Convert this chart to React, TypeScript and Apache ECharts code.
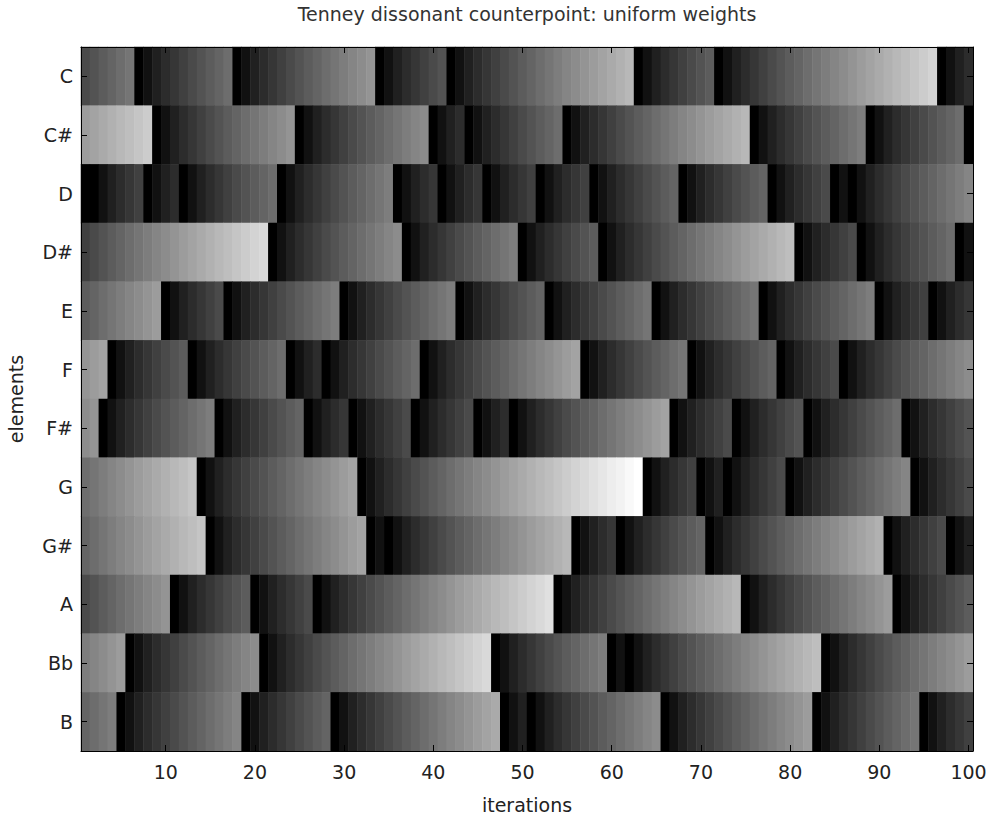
import React, { useEffect, useRef } from "react";
import * as echarts from "echarts";

const elements = ["C", "C#", "D", "D#", "E", "F", "F#", "G", "G#", "A", "Bb", "B"];
const xTickLabels = [10, 20, 30, 40, 50, 60, 70, 80, 90, 100];

// iterations at which each element was chosen
const chosenC = [7, 18, 34, 42, 63, 72, 97];
const chosenCs = [9, 25, 40, 44, 55, 76, 89, 100];
const chosenD = [1, 2, 8, 12, 23, 36, 41, 46, 52, 58, 68, 78, 85, 87];
const chosenDs = [22, 37, 50, 59, 81, 88, 99];
const chosenE = [10, 17, 30, 43, 53, 65, 77, 90, 96];
const chosenF = [4, 13, 24, 28, 39, 57, 69, 79, 86];
const chosenFs = [3, 16, 26, 31, 38, 45, 49, 67, 74, 82, 93];
const chosenG = [14, 32, 64, 70, 73, 80, 94];
const chosenGs = [15, 33, 35, 56, 61, 71, 91, 98];
const chosenA = [11, 20, 27, 54, 75, 92];
const chosenBb = [6, 21, 47, 60, 62, 84];
const chosenB = [5, 19, 29, 48, 51, 66, 83, 95];

// count of each element at iteration 1 (read from grey level)
const startCounts = [6, 16, 0, 5, 8, 15, 14, 10, 9, 6, 12, 9];

const chosenLists = [
  chosenC, chosenCs, chosenD, chosenDs, chosenE, chosenF,
  chosenFs, chosenG, chosenGs, chosenA, chosenBb, chosenB,
];

const N_ITER = 100;
const iterations = Array.from({ length: N_ITER }, (_, i) => String(i + 1));

function buildData() {
  const out: [number, number, number][] = [];
  chosenLists.forEach((list, r) => {
    let count = startCounts[r];
    for (let k = 1; k <= N_ITER; k++) {
      if (list.includes(k)) count = 0;
      out.push([k - 1, r, count]);
      count++;
    }
  });
  return out;
}

export default function App() {
  const ref = useRef<HTMLDivElement>(null);
  useEffect(() => {
    if (!ref.current) return;
    const chart = echarts.init(ref.current, null, { renderer: "svg" });
    const data = buildData();
    const maxV = Math.max(...data.map((d) => d[2]));
    const grays: string[] = [];
    for (let i = 0; i <= 20; i++) {
      const g = Math.round(255 * Math.pow(i / 20, 0.75));
      grays.push(`rgb(${g},${g},${g})`);
    }
    const font = "'DejaVu Sans', Verdana, sans-serif";
    const fs = 19;
    const txt = "#222";
    const gridL = 81, gridT = 47, gridW = 892, gridH = 704;
    const tickInterval = (i: number) => xTickLabels.includes(i + 1);
    chart.setOption({
      animation: false,
      backgroundColor: "#fff",
      textStyle: { fontFamily: font },
      graphic: [
        {
          type: "text",
          x: gridL + gridW / 2,
          y: 14,
          style: {
            text: "Tenney dissonant counterpoint: uniform weights",
            fontSize: fs,
            fontFamily: font,
            fill: "#333",
            textAlign: "center",
            textVerticalAlign: "middle",
          },
        },
      ],
      grid: {
        left: gridL,
        top: gridT,
        width: gridW,
        height: gridH,
        show: false,
        containLabel: false,
        outerBoundsMode: "none",
      },
      visualMap: {
        show: false,
        min: 0,
        max: maxV,
        dimension: 2,
        inRange: { color: grays },
      },
      xAxis: [
        {
          type: "category",
          data: iterations,
          position: "bottom",
          z: 10,
          axisLine: { show: true, lineStyle: { color: "#000", width: 1 } },
          axisTick: {
            show: true,
            inside: true,
            length: 6,
            alignWithLabel: true,
            interval: tickInterval,
            lineStyle: { color: "#000" },
          },
          axisLabel: {
            interval: tickInterval,
            fontSize: fs,
            color: txt,
            margin: 11,
            fontFamily: font,
          },
          splitLine: { show: false },
          name: "iterations",
          nameLocation: "middle",
          nameGap: 44,
          nameTextStyle: { fontSize: fs, color: txt, fontFamily: font },
        },
        {
          type: "category",
          data: iterations,
          position: "top",
          z: 10,
          axisLine: { show: true, lineStyle: { color: "#000", width: 1 } },
          axisTick: {
            show: true,
            inside: true,
            length: 6,
            alignWithLabel: true,
            interval: tickInterval,
            lineStyle: { color: "#000" },
          },
          axisLabel: { show: false },
        },
      ],
      yAxis: [
        {
          type: "category",
          data: elements,
          inverse: true,
          position: "left",
          z: 10,
          axisLine: { show: true, lineStyle: { color: "#000", width: 1 } },
          axisTick: {
            show: true,
            inside: true,
            length: 6,
            alignWithLabel: true,
            lineStyle: { color: "#000" },
          },
          axisLabel: { fontSize: fs, color: txt, margin: 8, fontFamily: font },
          name: "elements",
          nameLocation: "middle",
          nameGap: 56,
          nameTextStyle: { fontSize: fs, color: txt, fontFamily: font },
        },
        {
          type: "category",
          data: elements,
          inverse: true,
          position: "right",
          z: 10,
          axisLine: { show: true, lineStyle: { color: "#000", width: 1 } },
          axisTick: {
            show: true,
            inside: true,
            length: 6,
            alignWithLabel: true,
            lineStyle: { color: "#000" },
          },
          axisLabel: { show: false },
        },
      ],
      series: [
        {
          type: "heatmap",
          xAxisIndex: 0,
          yAxisIndex: 0,
          data,
          itemStyle: { borderWidth: 0 },
          emphasis: { disabled: true },
        },
      ],
    });
    return () => chart.dispose();
  }, []);
  return (
    <div
      ref={ref}
      style={{ position: "fixed", left: 0, top: 0, width: 994, height: 821, background: "#fff" }}
    />
  );
}
